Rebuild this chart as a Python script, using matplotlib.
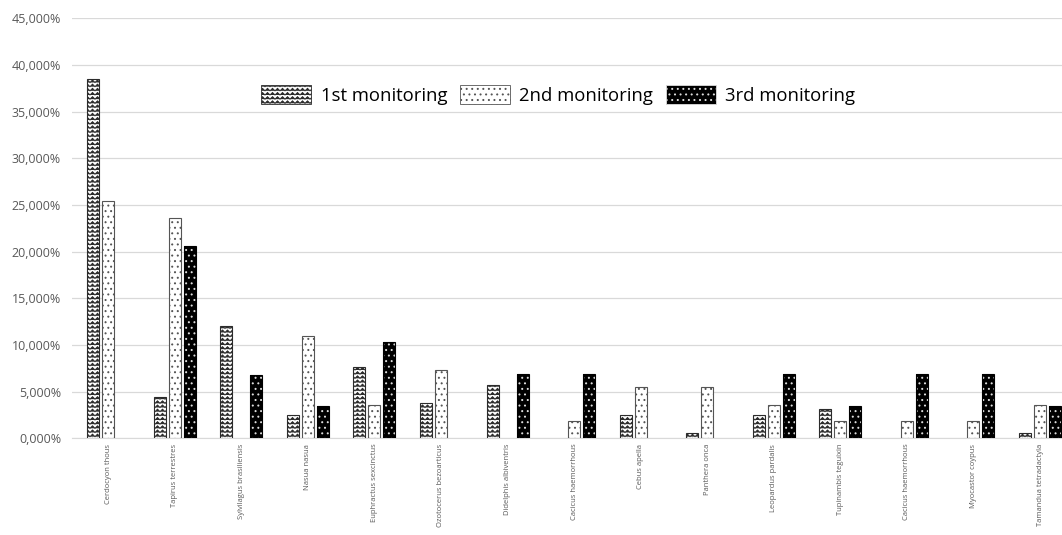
import warnings
import numpy as np
import matplotlib
matplotlib.use("Agg")
import matplotlib.pyplot as plt
import matplotlib.hatch as mhatch
from matplotlib.path import Path
from matplotlib.ticker import FuncFormatter

warnings.filterwarnings("ignore")

species = ["Cerdocyon thous", "Tapirus terrestres", "Sylvilagus brasiliensis",
           "Nasua nasua", "Euphractus sexcinctus", "Ozotocerus bezoarticus",
           "Didelphis albiventris", "Cacicus haemorrhous", "Cebus apella",
           "Panthera onca", "Leopardus pardalis", "Tupinambis teguixin",
           "Cacicus haemorrhous", "Myocastor coypus", "Tamandua tetradactyla"]

# percentages per monitoring campaign
first = [38.5, 4.4, 12.0, 2.5, 7.6, 3.8, 5.7, 0, 2.5, 0.6, 2.5, 3.1, 0, 0, 0.6]
second = [25.4, 23.6, 0, 10.9, 3.6, 7.3, 0, 1.8, 5.5, 5.5, 3.6, 1.8, 1.8, 1.8, 3.6]
third = [0, 20.6, 6.8, 3.4, 10.3, 0, 6.9, 6.9, 0, 0, 6.9, 3.4, 6.9, 6.9, 3.4]

series_names = ["1st monitoring", "2nd monitoring", "3rd monitoring"]
y_ticks = [0, 5, 10, 15, 20, 25, 30, 35, 40, 45]


# Excel-like zigzag fill pattern, registered as hatch character 'z'
class ZigzagHatch(mhatch.HatchPatternBase):
    def __init__(self, hatch, density):
        self.num_rows = int(hatch.count('z') * density)
        self.num_teeth = int(self.num_rows * 0.85)
        self.num_vertices = self.num_rows * (2 * self.num_teeth + 1)

    def set_vertices_and_codes(self, vertices, codes):
        n = 2 * self.num_teeth + 1
        steps, stepsize = np.linspace(0.0, 1.0, self.num_rows, False, retstep=True)
        xs = np.linspace(0.0, 1.0, n)
        amp = stepsize * 0.6
        wave = np.where(np.arange(n) % 2 == 0, 0.0, amp)
        for i, y0 in enumerate(steps):
            vertices[i * n:(i + 1) * n, 0] = xs
            vertices[i * n:(i + 1) * n, 1] = y0 + stepsize * 0.2 + wave
            codes[i * n] = Path.MOVETO
            codes[i * n + 1:(i + 1) * n] = Path.LINETO


mhatch._hatch_types.append(ZigzagHatch)

plt.rcParams['font.family'] = ['Open Sans', 'DejaVu Sans']
plt.rcParams['hatch.linewidth'] = 0.7


def nz(vals):
    # empty bars are not drawn at all
    return [v if v > 0 else np.nan for v in vals]


fig = plt.figure(figsize=(10.62, 5.35), dpi=100)
ax = fig.add_axes([0.068, 0.181, 0.932, 0.785])

x = np.arange(len(species))
w = 0.18
off = 0.225

ax.bar(x - off, nz(first), w, facecolor='white', edgecolor='#2b2b2b',
       hatch='zzzz', linewidth=0.8, zorder=3, label=series_names[0])
ax.bar(x, nz(second), w, facecolor='white', edgecolor='#555555',
       hatch='...', linewidth=0.8, zorder=3, label=series_names[1])
ax.bar(x + off, nz(third), w, facecolor='black', edgecolor='#dddddd',
       hatch='...', linewidth=0, zorder=3, label=series_names[2])
ax.bar(x + off, nz(third), w, facecolor='none', edgecolor='black',
       linewidth=0.8, zorder=4)

ax.set_ylim(0, 45)
ax.set_xlim(-0.54, 14.33)
ax.set_yticks(y_ticks)
ax.yaxis.set_major_formatter(FuncFormatter(lambda v, p: f"{v:.3f}".replace('.', ',') + "%"))
ax.grid(axis='y', color='#d9d9d9', linewidth=0.9, zorder=0)
for s in ['top', 'right', 'left']:
    ax.spines[s].set_visible(False)
ax.spines['bottom'].set_color('#d9d9d9')
ax.tick_params(axis='y', length=0, labelsize=9, labelcolor='#595959', pad=8)
ax.tick_params(axis='x', length=0, labelsize=5.5, labelcolor='#595959', pad=4)
ax.set_xticks(x)
ax.set_xticklabels(species, rotation=90)

leg = ax.legend(loc='center', bbox_to_anchor=(0.491, 0.817), ncol=3,
                frameon=False, fontsize=13.3, handlelength=2.7, handleheight=1.2,
                columnspacing=0.7, handletextpad=0.5)
for h in leg.legend_handles:
    h.set_linewidth(0.6)

fig.savefig("out.png", dpi=100)
